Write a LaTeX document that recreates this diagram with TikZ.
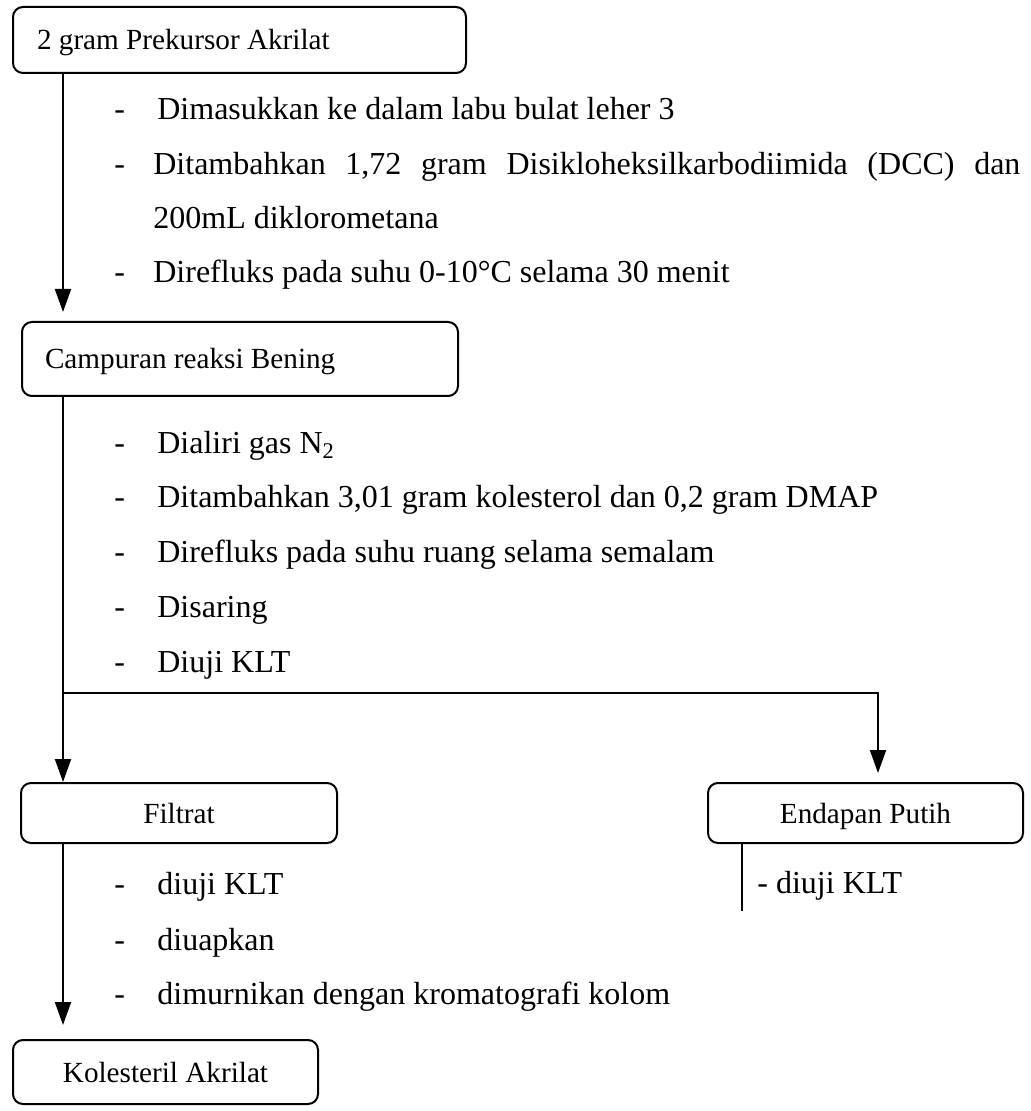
\documentclass[tikz,border=0pt]{standalone}
\usepackage{fontspec}
\setmainfont{Liberation Serif}
\usetikzlibrary{arrows.meta}
\begin{document}
\begin{tikzpicture}[x=0.5pt,y=-0.5pt,
  font=\fontsize{14.6pt}{17pt}\selectfont,
  box/.style={draw, line width=1pt, rounded corners=5pt, inner sep=0pt, text height=12pt, text depth=2pt},
  arr/.style={line width=1pt, -{Triangle[length=11.5pt,width=8pt]}},
  ln/.style={line width=1pt},
  item/.style={anchor=base west, inner sep=0pt, font=\fontsize{16pt}{19pt}\selectfont}]
\useasboundingbox (0,0) rectangle (1030,1111);

% boxes
\node[box, minimum width=226.5pt, minimum height=33pt] (b1) at (239.5,40)
  {\makebox[226.5pt][l]{\hspace{12pt}2 gram Prekursor Akrilat}};
\node[box, minimum width=218pt, minimum height=37pt] (b2) at (240,359)
  {\makebox[218pt][l]{\hspace{11.5pt}Campuran reaksi Bening}};
\node[box, minimum width=158pt, minimum height=30pt] (f) at (179,813) {Filtrat};
\node[box, minimum width=157.5pt, minimum height=30pt] (e) at (865.5,813) {Endapan Putih};
\node[box, minimum width=152.5pt, minimum height=32pt] (k) at (165.5,1072) {Kolesteril Akrilat};

% connector end points
\coordinate (a1) at (63,312);
\coordinate (br) at (63,693);
\coordinate (a3) at (878,773);
\coordinate (a4) at (63,1025);
\coordinate (e1) at (742,911);

\draw[arr] (b1.south -| a1) -- (a1);
\draw[arr] (b2.south -| br) -- (f.north -| br);
\draw[arr] (br) -| (a3);
\draw[arr] (f.south -| a4) -- (a4);
\draw[ln] (e.south -| e1) -- (e1);

% step texts, block 1
\node[item] (s1) at (114,120) {\makebox[21.5pt][l]{-}Dimasukkan ke dalam labu bulat leher 3};
\node[item] (s2) at (114,175) {\makebox[19.5pt][l]{-}\hbox to 433.5pt{Ditambahkan\hfill 1,72\hfill gram\hfill Disikloheksilkarbodiimida\hfill (DCC)\hfill dan}};
\node[item] (s3) at (153,229) {200mL diklorometana};
\node[item] (s4) at (114,283) {\makebox[19.5pt][l]{-}Direfluks pada suhu 0-10°C selama 30 menit};

% block 2
\node[item] (t1) at (114,453) {\makebox[21.5pt][l]{-}Dialiri gas N\textsubscript{2}};
\node[item] (t2) at (114,507) {\makebox[21.5pt][l]{-}Ditambahkan 3,01 gram kolesterol dan 0,2 gram DMAP};
\node[item] (t3) at (114,562) {\makebox[21.5pt][l]{-}Direfluks pada suhu ruang selama semalam};
\node[item] (t4) at (114,617) {\makebox[21.5pt][l]{-}Disaring};
\node[item] (t5) at (114,672) {\makebox[21.5pt][l]{-}Diuji KLT};

% block 3
\node[item] (u1) at (114,894) {\makebox[21.5pt][l]{-}diuji KLT};
\node[item] (u2) at (114,950) {\makebox[21.5pt][l]{-}diuapkan};
\node[item] (u3) at (114,1004) {\makebox[21.5pt][l]{-}dimurnikan dengan kromatografi kolom};
\node[item] (v1) at (757,893) {- diuji KLT};
\end{tikzpicture}
\end{document}
